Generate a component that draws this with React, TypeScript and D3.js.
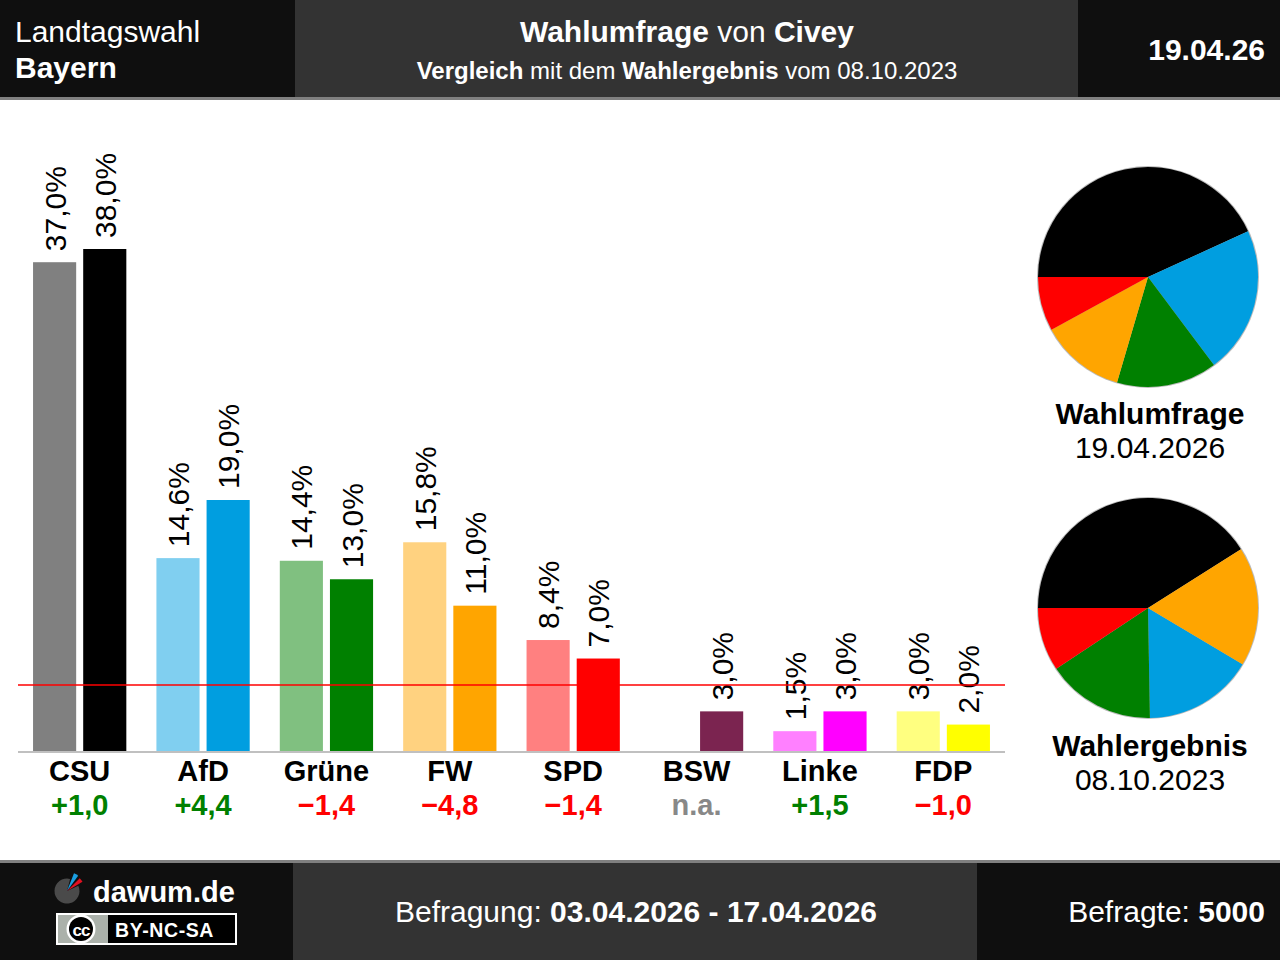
import React, { useEffect, useRef } from 'react';
import * as d3 from 'd3';

const parties = ['CSU', 'AfD', 'Grüne', 'FW', 'SPD', 'BSW', 'Linke', 'FDP'];
const pollValues = [38.0, 19.0, 13.0, 11.0, 7.0, 3.0, 3.0, 2.0];
const electionValues: (number | null)[] = [37.0, 14.6, 14.4, 15.8, 8.4, null, 1.5, 3.0];
const partyColors = ['#000000', '#009ee0', '#008000', '#ffa500', '#ff0000', '#7b2450', '#ff00ff', '#ffff00'];
const threshold = 5;

const FONT = '"Liberation Sans", Arial, sans-serif';

const fmt = (v: number) => v.toFixed(1).replace('.', ',');

const App: React.FC = () => {
  const svgRef = useRef<SVGSVGElement>(null);

  useEffect(() => {
    document.body.style.margin = '0';
    if (!svgRef.current) return;
    const svg = d3.select(svgRef.current);
    svg.selectAll('*').remove();

    const W = 1280;
    const H = 960;

    svg.append('rect').attr('width', W).attr('height', H).attr('fill', '#ffffff');

    // ---- header
    const header = svg.append('g');
    header.append('rect').attr('width', W).attr('height', 100).attr('fill', '#808080');
    header.append('rect').attr('width', 295).attr('height', 97).attr('fill', '#0f0f0f');
    header.append('rect').attr('x', 295).attr('width', 783).attr('height', 97).attr('fill', '#333333');
    header.append('rect').attr('x', 1078).attr('width', 202).attr('height', 97).attr('fill', '#0f0f0f');

    const txt = (g: d3.Selection<SVGGElement, unknown, null, undefined>, x: number, y: number, size: number, anchor: string) =>
      g.append('text')
        .attr('x', x)
        .attr('y', y)
        .attr('font-family', FONT)
        .attr('font-size', size)
        .attr('text-anchor', anchor)
        .attr('fill', '#ffffff');

    txt(header, 15, 42, 30, 'start').text('Landtagswahl');
    txt(header, 15, 78, 30, 'start').attr('font-weight', 'bold').text('Bayern');

    const t1 = txt(header, 687, 42, 30, 'middle');
    t1.append('tspan').attr('font-weight', 'bold').text('Wahlumfrage');
    t1.append('tspan').text(' von ');
    t1.append('tspan').attr('font-weight', 'bold').text('Civey');

    const t2 = txt(header, 687, 79, 24, 'middle');
    t2.append('tspan').attr('font-weight', 'bold').text('Vergleich');
    t2.append('tspan').text(' mit dem ');
    t2.append('tspan').attr('font-weight', 'bold').text('Wahlergebnis');
    t2.append('tspan').text(' vom 08.10.2023');

    txt(header, 1265, 60, 30, 'end').attr('font-weight', 'bold').text('19.04.26');

    // ---- bars
    const x = d3.scaleBand<string>().domain(parties).range([18, 1005]).padding(0);
    const sub = d3.scaleBand<string>()
      .domain(['prev', 'poll'])
      .range([0, x.bandwidth()])
      .paddingInner(0.14)
      .paddingOuter(0.3);
    const y = d3.scaleLinear().domain([0, 38]).range([751, 249]);

    const chart = svg.append('g');

    const bars = parties.map((p, i) => ({
      party: p,
      prev: electionValues[i],
      poll: pollValues[i],
      color: partyColors[i],
      light: d3.interpolateRgb(partyColors[i], '#ffffff')(0.5),
    }));

    bars.forEach(d => {
      const items: { key: string; v: number | null; c: string }[] = [
        { key: 'prev', v: d.prev, c: d.light },
        { key: 'poll', v: d.poll, c: d.color },
      ];
      items.forEach(it => {
        if (it.v === null) return;
        const bx = (x(d.party) ?? 0) + (sub(it.key) ?? 0);
        chart.append('rect')
          .attr('x', bx)
          .attr('y', y(it.v))
          .attr('width', sub.bandwidth())
          .attr('height', y(0) - y(it.v))
          .attr('fill', it.c);
        const cx = bx + sub.bandwidth() / 2 + 11;
        const cy = y(it.v) - 11;
        chart.append('text')
          .attr('transform', `translate(${cx},${cy}) rotate(-90)`)
          .attr('font-family', FONT)
          .attr('font-size', 30)
          .attr('fill', '#000000')
          .text(`${fmt(it.v)}%`);
      });
    });

    // axis baseline
    chart.append('line')
      .attr('x1', 18).attr('x2', 1005)
      .attr('y1', y(0) + 1).attr('y2', y(0) + 1)
      .attr('stroke', '#c0c0c0')
      .attr('stroke-width', 2);

    // threshold line
    chart.append('line')
      .attr('x1', 18).attr('x2', 1005)
      .attr('y1', y(threshold)).attr('y2', y(threshold))
      .attr('stroke', '#ff0000')
      .attr('stroke-width', 1.5);

    // party names and differences
    bars.forEach(d => {
      const cx = (x(d.party) ?? 0) + x.bandwidth() / 2;
      chart.append('text')
        .attr('x', cx).attr('y', 781)
        .attr('text-anchor', 'middle')
        .attr('font-family', FONT)
        .attr('font-size', 29)
        .attr('font-weight', 'bold')
        .attr('fill', '#000000')
        .text(d.party);
      let label = 'n.a.';
      let col = '#888888';
      if (d.prev !== null) {
        const diff = d.poll - d.prev;
        label = (diff >= 0 ? '+' : '\u2212') + fmt(Math.abs(diff));
        col = diff >= 0 ? '#008000' : '#ff0000';
      }
      chart.append('text')
        .attr('x', cx).attr('y', 815)
        .attr('text-anchor', 'middle')
        .attr('font-family', FONT)
        .attr('font-size', 29)
        .attr('font-weight', 'bold')
        .attr('fill', col)
        .text(label);
    });

    // ---- pies
    const pie = d3.pie<{ v: number; c: string }>()
      .value(d => d.v)
      .sort((a, b) => b.v - a.v)
      .startAngle(-Math.PI / 2)
      .endAngle(Math.PI * 1.5);
    const arc = d3.arc<d3.PieArcDatum<{ v: number; c: string }>>().innerRadius(0).outerRadius(110);

    const drawPie = (cy: number, vals: (number | null)[], title: string, date: string, ty: number) => {
      const data = vals
        .map((v, i) => ({ v: v ?? 0, c: partyColors[i] }))
        .filter(d => d.v >= threshold);
      const g = svg.append('g').attr('transform', `translate(1148,${cy})`);
      g.append('circle').attr('r', 111).attr('fill', '#bbbbbb');
      g.selectAll('path')
        .data(pie(data))
        .join('path')
        .attr('d', arc)
        .attr('fill', d => d.data.c);
      svg.append('text')
        .attr('x', 1150).attr('y', ty)
        .attr('text-anchor', 'middle')
        .attr('font-family', FONT)
        .attr('font-size', 30)
        .attr('font-weight', 'bold')
        .text(title);
      svg.append('text')
        .attr('x', 1150).attr('y', ty + 34)
        .attr('text-anchor', 'middle')
        .attr('font-family', FONT)
        .attr('font-size', 30)
        .text(date);
    };
    drawPie(277, pollValues, 'Wahlumfrage', '19.04.2026', 424);
    drawPie(608, electionValues, 'Wahlergebnis', '08.10.2023', 756);

    // ---- footer
    const footer = svg.append('g');
    footer.append('rect').attr('y', 860).attr('width', W).attr('height', 100).attr('fill', '#808080');
    footer.append('rect').attr('y', 863).attr('width', 293).attr('height', 97).attr('fill', '#0f0f0f');
    footer.append('rect').attr('x', 293).attr('y', 863).attr('width', 684).attr('height', 97).attr('fill', '#333333');
    footer.append('rect').attr('x', 977).attr('y', 863).attr('width', 303).attr('height', 97).attr('fill', '#0f0f0f');

    // logo
    const logo = footer.append('g').attr('transform', 'translate(67,891)');
    logo.append('path')
      .attr('d', d3.arc()({ innerRadius: 0, outerRadius: 12.5, startAngle: Math.PI * 0.36, endAngle: Math.PI * 2.08 }) as string)
      .attr('fill', '#4a4a4a');
    logo.append('path')
      .attr('d', d3.arc()({ innerRadius: 0, outerRadius: 19, startAngle: Math.PI * 0.12, endAngle: Math.PI * 0.2 }) as string)
      .attr('fill', '#1a9ee0');
    logo.append('path')
      .attr('d', d3.arc()({ innerRadius: 0, outerRadius: 18, startAngle: Math.PI * 0.25, endAngle: Math.PI * 0.33 }) as string)
      .attr('fill', '#e01020');
    txt(footer, 93, 902, 29, 'start').attr('font-weight', 'bold').text('dawum.de');

    // licence badge
    const badge = footer.append('g');
    badge.append('rect').attr('x', 57).attr('y', 914).attr('width', 179).attr('height', 30)
      .attr('fill', '#000000').attr('stroke', '#ffffff').attr('stroke-width', 2);
    badge.append('rect').attr('x', 58).attr('y', 915).attr('width', 50).attr('height', 28).attr('fill', '#abb1aa');
    badge.append('circle').attr('cx', 81).attr('cy', 929).attr('r', 14.5).attr('fill', '#ffffff');
    badge.append('circle').attr('cx', 81).attr('cy', 929).attr('r', 12).attr('fill', '#000000');
    badge.append('text').attr('x', 81).attr('y', 935.5).attr('text-anchor', 'middle')
      .attr('font-family', FONT).attr('font-size', 17).attr('font-weight', 'bold')
      .attr('fill', '#ffffff').attr('letter-spacing', -1).text('cc');
    txt(badge, 115, 937, 19.5, 'start').attr('font-weight', 'bold').attr('letter-spacing', 0.6).text('BY-NC-SA');

    const f1 = txt(footer, 636, 922, 30, 'middle');
    f1.append('tspan').text('Befragung: ');
    f1.append('tspan').attr('font-weight', 'bold').text('03.04.2026 - 17.04.2026');

    const f2 = txt(footer, 1265, 922, 30, 'end');
    f2.append('tspan').text('Befragte: ');
    f2.append('tspan').attr('font-weight', 'bold').text('5000');
  }, []);

  return <svg ref={svgRef} width={1280} height={960} style={{ display: 'block' }} />;
};

export default App;
